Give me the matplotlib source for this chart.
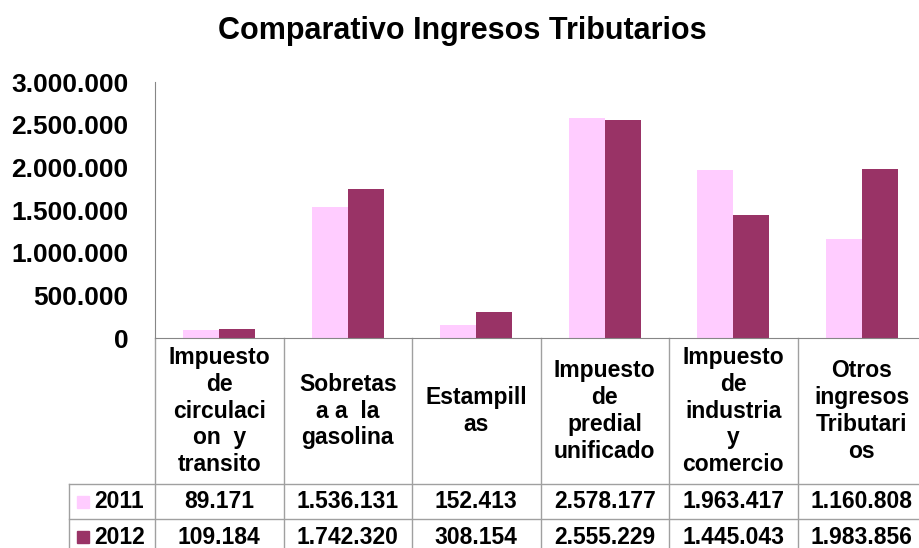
import matplotlib
matplotlib.use('Agg')
import matplotlib.pyplot as plt
import numpy as np

plt.rcParams['font.family'] = ['Liberation Sans', 'DejaVu Sans']
plt.rcParams['font.weight'] = 'bold'

# data
categories = ['Impuesto\nde\ncirculaci\non  y\ntransito',
              'Sobretas\na a  la\ngasolina',
              'Estampill\nas',
              'Impuesto\nde\npredial\nunificado',
              'Impuesto\nde\nindustria\ny\ncomercio',
              'Otros\ningresos\nTributari\nos']
years = ['2011', '2012']
vals_2011 = [89171, 1536131, 152413, 2578177, 1963417, 1160808]
vals_2012 = [109184, 1742320, 308154, 2555229, 1445043, 1983856]
colors = ['#FFCCFF', '#993366']
yticks = [0, 500000, 1000000, 1500000, 2000000, 2500000, 3000000]

def fmt(v):
    return '{:,.0f}'.format(v).replace(',', '.')

fig = plt.figure(figsize=(9.2, 5.48), dpi=100)
ax = fig.add_axes([155 / 920, 210 / 548, 771 / 920, 256 / 548])

x = np.arange(len(categories))
w = 0.28
ax.bar(x - w / 2, vals_2011, w, color=colors[0])
ax.bar(x + w / 2, vals_2012, w, color=colors[1])

ax.set_xlim(-0.5, len(categories) - 0.5)
ax.set_ylim(0, 3000000)
ax.set_yticks(yticks)
ax.set_yticklabels([fmt(v) for v in yticks], fontsize=19, fontweight='bold')
ax.tick_params(axis='y', length=0, pad=19)
ax.set_xticks([])
for s in ['top', 'right']:
    ax.spines[s].set_visible(False)
for s in ['left', 'bottom']:
    ax.spines[s].set_color('#868686')

fig.text(0.503, 1 - 31 / 548, 'Comparativo Ingresos Tributarios',
         ha='center', va='center', fontsize=22, fontweight='bold')

# data table under the axis
tr = ax.get_xaxis_transform()
line_c = '#A0A0A0'
y_head = -146 / 256
y_r1 = -181 / 256
y_r2 = -217 / 256
x_leg = -1.169
n = len(categories)

for i in range(n + 1):
    ax.plot([i - 0.5, i - 0.5], [0, y_r2], color=line_c, lw=1,
            transform=tr, clip_on=False)
ax.plot([x_leg, x_leg], [y_head, y_r2], color=line_c, lw=1,
        transform=tr, clip_on=False)
for yy in [y_head, y_r1, y_r2]:
    ax.plot([x_leg, n - 0.5], [yy, yy], color=line_c, lw=1,
            transform=tr, clip_on=False)

for i, cat in enumerate(categories):
    ax.text(i, y_head / 2, cat, transform=tr, ha='center', va='center',
            fontsize=16.5, fontweight='bold', linespacing=1.21, clip_on=False)

row_y = [(y_head + y_r1) / 2, (y_r1 + y_r2) / 2]
for r, (yr, vals) in enumerate(zip(years, [vals_2011, vals_2012])):
    ax.plot([-1.064], [row_y[r]], marker='s', markersize=8, color=colors[r],
            transform=tr, clip_on=False, linestyle='none')
    ax.text(-0.975, row_y[r], yr, transform=tr, ha='left', va='center',
            fontsize=16.5, fontweight='bold', clip_on=False)
    for i, v in enumerate(vals):
        ax.text(i, row_y[r], fmt(v), transform=tr, ha='center', va='center',
                fontsize=16.5, fontweight='bold', clip_on=False)

fig.savefig('out.png', dpi=100)
